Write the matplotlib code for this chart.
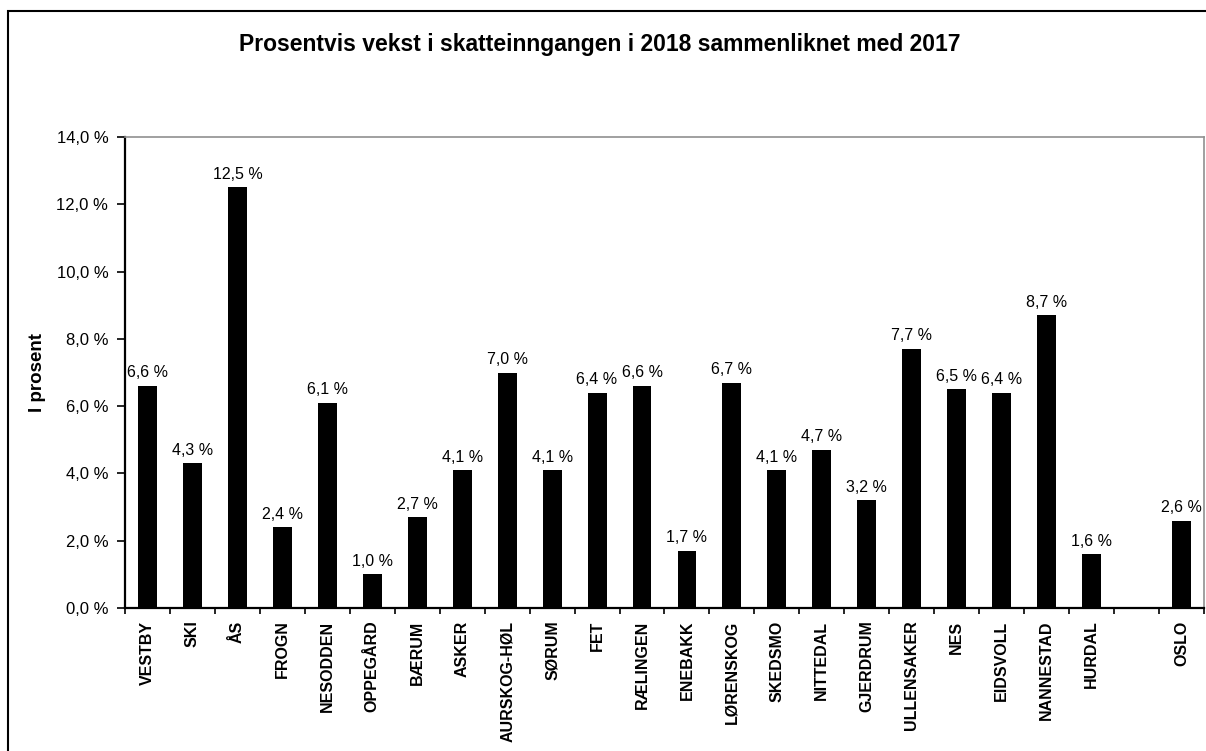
import numpy as np
import matplotlib.pyplot as plt
from matplotlib.patches import Rectangle
from matplotlib.ticker import FuncFormatter

plt.rcParams['font.family'] = ['Liberation Sans', 'DejaVu Sans']

# kommuner, tom plass mellom HURDAL og OSLO
kommuner = ['VESTBY', 'SKI', 'ÅS', 'FROGN', 'NESODDEN', 'OPPEGÅRD', 'BÆRUM', 'ASKER',
            'AURSKOG-HØL', 'SØRUM', 'FET', 'RÆLINGEN', 'ENEBAKK', 'LØRENSKOG', 'SKEDSMO',
            'NITTEDAL', 'GJERDRUM', 'ULLENSAKER', 'NES', 'EIDSVOLL', 'NANNESTAD', 'HURDAL',
            '', 'OSLO']
vekst = [6.6, 4.3, 12.5, 2.4, 6.1, 1.0, 2.7, 4.1,
         7.0, 4.1, 6.4, 6.6, 1.7, 6.7, 4.1,
         4.7, 3.2, 7.7, 6.5, 6.4, 8.7, 1.6,
         np.nan, 2.6]
y_ticks = [0, 2, 4, 6, 8, 10, 12, 14]

W, H = 1206, 751
fig = plt.figure(figsize=(W / 100, H / 100), dpi=100)
ax = fig.add_axes([125 / W, 1 - 608 / H, 1079 / W, (608 - 137) / H])

x = np.arange(len(kommuner))
ax.bar(x, vekst, width=0.42, color='black')

for xi, v in zip(x, vekst):
    if np.isnan(v):
        continue
    ax.annotate(f'{v:.1f} %'.replace('.', ','), (xi, v), xytext=(0, 4),
                textcoords='offset points', ha='center', va='bottom', fontsize=11.5)

ax.set_xlim(-0.5, len(kommuner) - 0.5)
ax.set_ylim(0, 14)
ax.set_yticks(y_ticks)
ax.yaxis.set_major_formatter(FuncFormatter(lambda v, p: f'{v:.1f} %'.replace('.', ',')))
ax.tick_params(axis='y', labelsize=12, length=6, width=1.2, pad=6)

ax.set_xticks(x)
ax.set_xticklabels(kommuner, rotation=90, fontsize=11.5, fontweight='bold')
ax.tick_params(axis='x', which='major', length=0, pad=9)
ax.set_xticks(np.arange(-0.5, len(kommuner)), minor=True)
ax.tick_params(axis='x', which='minor', length=4, width=1.2)

for side in ['left', 'bottom']:
    ax.spines[side].set_linewidth(1.6)
for side in ['top', 'right']:
    ax.spines[side].set_color('#909090')
    ax.spines[side].set_linewidth(1.2)

fig.text(0.497, 1 - 45 / H, 'Prosentvis vekst i skatteinngangen i 2018 sammenliknet med 2017',
         ha='center', va='center', fontsize=16.5, fontweight='bold')
fig.text(38 / W, 1 - 372 / H, 'I prosent', rotation=90, ha='center', va='center',
         fontsize=13.5, fontweight='bold')

# ramme rundt diagrammet
fig.patches.append(Rectangle((7.5 / W, -0.1), 1.2, 1.1 - 10.5 / H, transform=fig.transFigure,
                             fill=False, edgecolor='black', linewidth=1.5))

fig.savefig('out.png', dpi=100)
